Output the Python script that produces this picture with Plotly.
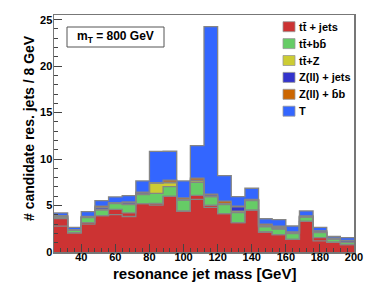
import plotly.graph_objects as go

# ---------------- data ----------------
bin_edges = [24, 32, 40, 48, 56, 64, 72, 80, 88, 96, 104, 112, 120, 128, 136, 144,
             152, 160, 168, 176, 184, 192, 200]
bin_centers = [28, 36, 44, 52, 60, 68, 76, 84, 92, 100, 108, 116, 124, 132, 140, 148,
               156, 164, 172, 180, 188, 196]

tt_jets = [3.60, 2.05, 3.15, 3.92, 4.58, 4.20, 5.20, 5.22, 5.98, 4.40, 6.10, 5.03,
           4.12, 3.15, 4.50, 2.15, 1.86, 1.36, 3.30, 1.55, 1.05, 0.80]
tt_jets_sub = [2.78, 2.05, 3.00, 3.92, 4.03, 3.82, 5.20, 5.04, 5.98, 4.40, 5.66, 4.80,
               4.12, 3.15, 4.50, 2.15, 1.86, 1.36, 3.30, 1.20, 1.05, 0.80]
tt_bb = [0.15, 0.30, 0.55, 0.58, 0.62, 0.90, 0.98, 1.08, 1.05, 1.18, 1.40, 0.90,
         0.98, 1.10, 1.02, 0.55, 0.60, 0.62, 0.45, 0.54, 0.33, 0.20]
tt_z = [0.03, 0.00, 0.03, 0.10, 0.03, 0.05, 0.08, 1.10, 0.42, 0.03, 0.15, 0.05,
        0.05, 0.15, 0.05, 0.05, 0.05, 0.03, 0.03, 0.03, 0.02, 0.05]
z_jets = [0.10, 0.04, 0.07, 0.18, 0.04, 0.15, 0.10, 0.04, 0.06, 0.04, 0.08, 0.15,
          0.07, 0.45, 0.05, 0.12, 0.10, 0.10, 0.06, 0.12, 0.06, 0.15]
z_bb = [0.02, 0.02, 0.02, 0.15, 0.02, 0.10, 0.08, 0.03, 0.23, 0.18, 0.22, 0.10,
        0.25, 0.08, 0.03, 0.12, 0.16, 0.05, 0.04, 0.03, 0.02, 0.06]
signal_T = [0.32, 0.23, 0.53, 0.59, 0.65, 0.66, 1.21, 3.35, 3.10, 1.83, 3.49, 18.02,
            2.75, 1.03, 1.21, 0.59, 0.72, 0.64, 0.54, 0.37, 0.21, 0.29]

legend_labels = ["tt\u0304 + jets", "tt\u0304+bb\u0304", "tt\u0304+Z",
                 "Z(ll) + jets", "Z(ll) + b\u0304b", "T"]
colors = ["#CC3333", "#66CC66", "#CCCC33", "#3333CC", "#CC6600", "#3366FF"]

x_title = "resonance jet mass [GeV]"
y_title = "# candidate res. jets / 8 GeV"
box_text = "m<sub>T</sub> = 800 GeV"

# ---------------- figure ----------------
W, H = 374, 296
ML, MR, MT, MB = 54, 20, 15, 44
PW, PH = W - ML - MR, H - MT - MB


def px(x):
    return (x - ML) / PW


def py(y):
    return (H - MB - y) / PH


FONT = "Liberation Sans"
fig = go.Figure()

series = [tt_jets, tt_bb, tt_z, z_jets, z_bb, signal_T]
for vals, col, lab in zip(series, colors, legend_labels):
    fig.add_trace(go.Bar(x=bin_centers, y=vals, width=8, name=lab,
                         marker=dict(color=col, line=dict(width=0)),
                         showlegend=False, hoverinfo="skip"))

# outline step lines of cumulative stack
outline_col = "#858585"
cum = [0.0] * len(bin_centers)
levels = [tt_jets_sub]
for vals in series:
    cum = [c + v for c, v in zip(cum, vals)]
    levels.append(list(cum))
for lev in levels:
    fig.add_trace(go.Scatter(x=bin_edges, y=lev + [lev[-1]], mode="lines",
                             line=dict(color=outline_col, width=1.3, shape="hv"),
                             showlegend=False, hoverinfo="skip"))

shapes = []
annotations = []

# m_T box
shapes.append(dict(type="rect", xref="paper", yref="paper",
                   x0=px(67), x1=px(164), y0=py(47), y1=py(27),
                   line=dict(color="#555555", width=1), fillcolor="white"))
annotations.append(dict(xref="paper", yref="paper", x=px(115.5), y=py(36.5),
                        text=box_text, showarrow=False, xanchor="center", yanchor="middle",
                        font=dict(family=FONT, size=12, color="black", weight="bold")))

# legend
y0 = 26.7
dy = 16.9
for i, (lab, col) in enumerate(zip(legend_labels, colors)):
    yc = y0 + i * dy
    shapes.append(dict(type="rect", xref="paper", yref="paper",
                       x0=px(283), x1=px(295), y0=py(yc + 5), y1=py(yc - 5),
                       line=dict(color="#999999", width=0.8), fillcolor=col))
    annotations.append(dict(xref="paper", yref="paper", x=px(297), y=py(yc),
                            text=lab, showarrow=False, xanchor="left", yanchor="middle",
                            font=dict(family=FONT, size=11, color="black", weight="bold")))

# axis titles
annotations.append(dict(xref="paper", yref="paper", x=px(204), y=py(273),
                        text=x_title, showarrow=False, xanchor="center", yanchor="middle",
                        font=dict(family=FONT, size=15, color="black", weight="bold")))
annotations.append(dict(xref="paper", yref="paper", x=px(29), y=py(128),
                        text=y_title, showarrow=False, xanchor="center", yanchor="middle",
                        textangle=-90,
                        font=dict(family=FONT, size=14, color="black", weight="bold")))

axis_col = "#777777"
fig.update_layout(
    width=W, height=H,
    margin=dict(l=ML, r=MR, t=MT, b=MB, pad=0),
    paper_bgcolor="white", plot_bgcolor="white",
    barmode="stack", bargap=0,
    showlegend=False,
    shapes=shapes, annotations=annotations,
    xaxis=dict(range=[24, 200], tick0=0, dtick=20, ticks="inside", ticklen=8,
               tickcolor="#444444", tickwidth=1, ticklabelstandoff=-6,
               minor=dict(dtick=4, ticks="inside", ticklen=4, tickcolor="#444444"),
               showgrid=False, zeroline=False, showline=True, linecolor=axis_col,
               linewidth=1.5, mirror=True,
               tickfont=dict(family=FONT, size=11, color="black", weight="bold")),
    yaxis=dict(range=[0, 25.5], tick0=0, dtick=5, ticks="inside", ticklen=8,
               tickcolor="#444444", tickwidth=1, ticklabelstandoff=-2,
               minor=dict(dtick=1, ticks="inside", ticklen=4, tickcolor="#444444"),
               showgrid=False, zeroline=False, showline=True, linecolor=axis_col,
               linewidth=1.5, mirror=True,
               tickfont=dict(family=FONT, size=11, color="black", weight="bold")),
)

fig.write_html("out.html",
               config={"displayModeBar": False, "staticPlot": True},
               post_script="document.body.style.margin='0px';document.body.style.padding='0px';")
